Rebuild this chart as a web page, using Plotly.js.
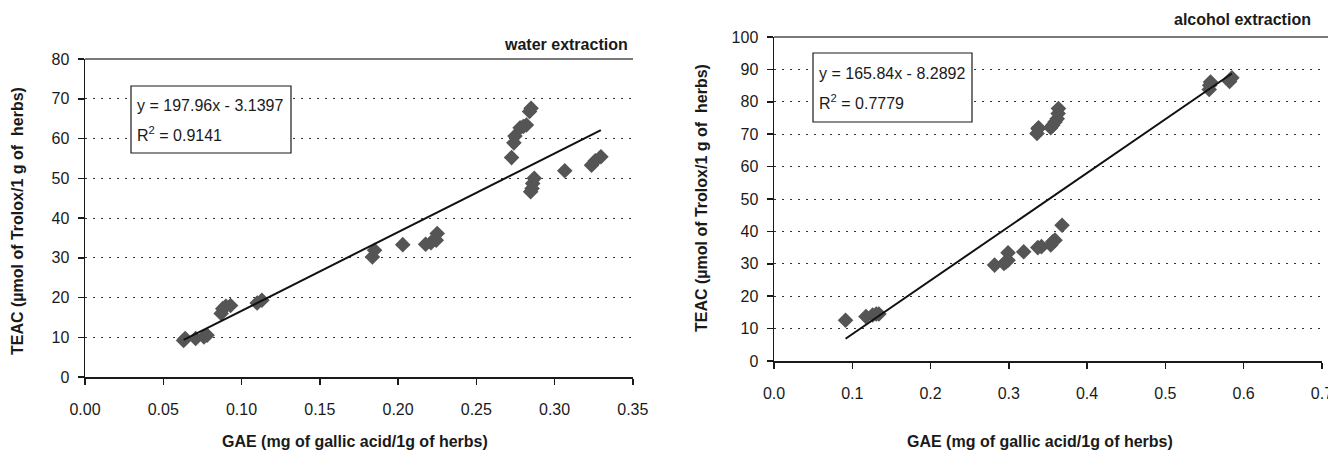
<!DOCTYPE html>
<html>
<head>
<meta charset="utf-8">
<script src="https://cdn.plot.ly/plotly-3.0.1.min.js"></script>
<style>html,body{margin:0;padding:0;background:#fff}#chart{width:1328px;height:450px}</style>
</head>
<body>
<div id="chart"></div>
<script>
// ---- Data ----
const waterGAE = [0.063, 0.064, 0.0707, 0.076, 0.078, 0.087, 0.088, 0.090, 0.093, 0.110, 0.113,
  0.1836, 0.185, 0.203, 0.2176, 0.221, 0.2244, 0.225,
  0.2725, 0.274, 0.2747, 0.278, 0.280, 0.282, 0.284, 0.285,
  0.2847, 0.2856, 0.286, 0.287, 0.3065, 0.3236, 0.326, 0.3296];
const waterTEAC = [9.2, 9.7, 9.7, 10.1, 10.5, 16.0, 17.2, 17.8, 18.0, 18.6, 19.3,
  30.2, 31.9, 33.3, 33.4, 33.8, 34.4, 36.1,
  55.2, 58.9, 60.6, 62.7, 63.0, 63.4, 66.8, 67.6,
  46.6, 47.4, 48.7, 50.0, 51.9, 53.3, 54.4, 55.4];

const alcoholGAE = [0.0914, 0.1175, 0.126, 0.1306, 0.134,
  0.2818, 0.2938, 0.2965, 0.299, 0.299, 0.319, 0.337, 0.3417, 0.3536, 0.356, 0.359, 0.368,
  0.336, 0.3373, 0.338, 0.3536, 0.356, 0.359, 0.3618, 0.363, 0.3634,
  0.556, 0.5566, 0.5577, 0.582, 0.585];
const alcoholTEAC = [12.6, 13.7, 14.2, 14.5, 14.5,
  29.6, 30.1, 30.6, 31.1, 33.4, 33.7, 35.0, 35.3, 35.8, 36.8, 37.3, 41.9,
  70.2, 71.7, 72.0, 72.0, 72.8, 73.8, 74.8, 76.4, 77.9,
  83.8, 85.1, 86.1, 86.3, 87.4];

const waterSlope = 197.96, waterIntercept = -3.1397, waterR2 = "0.9141";
const alcoholSlope = 165.84, alcoholIntercept = -8.2892, alcoholR2 = "0.7779";

const waterLabel = "water extraction";
const alcoholLabel = "alcohol extraction";
const xTitle = "GAE (mg of gallic acid/1g of herbs)";
const yTitle = "TEAC (µmol of Trolox/1 g of\u00a0\u00a0herbs)";

// ---- Helpers ----
const W = 1328, H = 450;
const px = v => v / W;
const py = v => 1 - v / H;
const FONT = "Liberation Sans, Arial, sans-serif";

function fitLine(xs, m, b) {
  const lo = Math.min(...xs), hi = Math.max(...xs);
  return {x: [lo, hi], y: [m * lo + b, m * hi + b]};
}
const wf = fitLine(waterGAE, waterSlope, waterIntercept);
const af = fitLine(alcoholGAE, alcoholSlope, alcoholIntercept);

const marker = {symbol: "diamond", size: 12, color: "#555555", line: {width: 0}};

const traces = [
  {type: "scatter", mode: "markers", x: waterGAE, y: waterTEAC, marker, xaxis: "x", yaxis: "y"},
  {type: "scatter", mode: "lines", x: wf.x, y: wf.y, line: {color: "#111", width: 2}, xaxis: "x", yaxis: "y"},
  {type: "scatter", mode: "markers", x: alcoholGAE, y: alcoholTEAC, marker, xaxis: "x2", yaxis: "y2"},
  {type: "scatter", mode: "lines", x: af.x, y: af.y, line: {color: "#111", width: 2}, xaxis: "x2", yaxis: "y2"}
];

const tickFont = {family: FONT, size: 16, color: "#1a1a1a"};
const xBase = {
  showgrid: false, zeroline: false, showline: true, linecolor: "#1a1a1a", linewidth: 1.5,
  ticks: "outside", ticklen: 6, tickcolor: "#1a1a1a", tickwidth: 1.5,
  tickfont: tickFont, ticklabelstandoff: 11, ticklabeloverflow: "allow", fixedrange: true
};
const yBase = {
  showgrid: true, gridcolor: "#333", gridwidth: 1, griddash: "2px,6px",
  zeroline: false, showline: true, linecolor: "#1a1a1a", linewidth: 1.5,
  ticks: "outside", ticklen: 6, tickcolor: "#1a1a1a", tickwidth: 1.5,
  tickfont: tickFont, ticklabelstandoff: 5, dtick: 10, fixedrange: true
};

const titleFont = {family: FONT, size: 16, color: "#1a1a1a", weight: "bold"};
const eqFont = {family: FONT, size: 16, color: "#1a1a1a"};

const layout = {
  width: W, height: H,
  margin: {l: 0, r: 0, t: 0, b: 0},
  paper_bgcolor: "#fff", plot_bgcolor: "rgba(0,0,0,0)",
  showlegend: false,
  xaxis: Object.assign({}, xBase, {domain: [px(85), px(633)], range: [0, 0.3501], tick0: 0, dtick: 0.05, tickformat: ".2f", anchor: "y"}),
  yaxis: Object.assign({}, yBase, {domain: [py(377), py(59)], range: [0, 80], anchor: "x"}),
  xaxis2: Object.assign({}, xBase, {domain: [px(774), px(1322)], range: [0, 0.7001], tick0: 0, dtick: 0.1, tickformat: ".1f", anchor: "y2"}),
  yaxis2: Object.assign({}, yBase, {domain: [py(361), py(37)], range: [0, 100], anchor: "x2"}),
  shapes: [
    {type: "line", xref: "paper", yref: "paper", x0: px(85), x1: px(633), y0: py(59), y1: py(59), line: {color: "#7a7a7a", width: 2}},
    {type: "line", xref: "paper", yref: "paper", x0: px(774), x1: 1, y0: py(37), y1: py(37), line: {color: "#7a7a7a", width: 2}},
    {type: "rect", xref: "paper", yref: "paper", x0: px(131), x1: px(291), y0: py(86), y1: py(153), line: {color: "#1a1a1a", width: 1.2}, fillcolor: "#fff"},
    {type: "rect", xref: "paper", yref: "paper", x0: px(813), x1: px(972), y0: py(53), y1: py(122), line: {color: "#1a1a1a", width: 1.2}, fillcolor: "#fff"}
  ],
  annotations: [
    {xref: "paper", yref: "paper", x: px(630), y: py(45), xanchor: "right", yanchor: "middle", text: waterLabel, showarrow: false, font: titleFont},
    {xref: "paper", yref: "paper", x: px(1313), y: py(20), xanchor: "right", yanchor: "middle", text: alcoholLabel, showarrow: false, font: titleFont},
    {xref: "paper", yref: "paper", x: px(355), y: py(441), xanchor: "center", yanchor: "middle", text: xTitle, showarrow: false, font: titleFont},
    {xref: "paper", yref: "paper", x: px(1040), y: py(441), xanchor: "center", yanchor: "middle", text: xTitle, showarrow: false, font: titleFont},
    {xref: "paper", yref: "paper", x: px(18), y: py(221), xanchor: "center", yanchor: "middle", textangle: -90, text: yTitle, showarrow: false, font: titleFont},
    {xref: "paper", yref: "paper", x: px(702), y: py(198), xanchor: "center", yanchor: "middle", textangle: -90, text: yTitle, showarrow: false, font: titleFont},
    {xref: "paper", yref: "paper", x: px(135), y: py(105), xanchor: "left", yanchor: "middle", text: "y = " + waterSlope.toFixed(2) + "x - " + Math.abs(waterIntercept).toFixed(4), showarrow: false, font: eqFont},
    {xref: "paper", yref: "paper", x: px(135), y: py(134), xanchor: "left", yanchor: "middle", text: "R<sup>2</sup> = " + waterR2, showarrow: false, font: eqFont},
    {xref: "paper", yref: "paper", x: px(817), y: py(73), xanchor: "left", yanchor: "middle", text: "y = " + alcoholSlope.toFixed(2) + "x - " + Math.abs(alcoholIntercept).toFixed(4), showarrow: false, font: eqFont},
    {xref: "paper", yref: "paper", x: px(817), y: py(102), xanchor: "left", yanchor: "middle", text: "R<sup>2</sup> = " + alcoholR2, showarrow: false, font: eqFont}
  ]
};

Plotly.newPlot("chart", traces, layout, {staticPlot: true, displayModeBar: false});
</script>
</body>
</html>
